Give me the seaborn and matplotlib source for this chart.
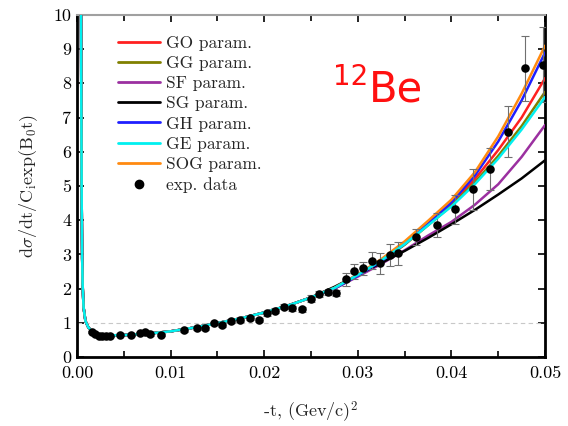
import numpy as np
import pandas as pd
import matplotlib
matplotlib.use("Agg")
import matplotlib.pyplot as plt
from matplotlib.lines import Line2D
from matplotlib.ticker import MultipleLocator, FixedLocator, FixedFormatter
import seaborn as sns

# ---------------- data ----------------
t_curve = [0.0004, 0.00045, 0.0005, 0.00055, 0.0006, 0.0007, 0.0009, 0.0012, 0.0016,
           0.002, 0.003, 0.005, 0.0075, 0.01, 0.0125, 0.015, 0.0175, 0.02, 0.0225,
           0.025, 0.0275, 0.03, 0.0325, 0.035, 0.0375, 0.04, 0.0425, 0.045, 0.0475, 0.05]
low_common = [12.0, 8.0, 4.5, 2.9, 2.1, 1.45, 1.05, 0.87, 0.74,
              0.67, 0.63, 0.64, 0.68, 0.75, 0.86, 0.99, 1.13, 1.30, 1.50, 1.74]
go_high = [2.00, 2.38, 2.80, 3.30, 3.88, 4.48, 5.20, 6.05, 7.00, 8.15]
gg_high = [2.00, 2.38, 2.80, 3.28, 3.85, 4.42, 5.10, 5.88, 6.75, 7.75]
sf_high = [2.00, 2.35, 2.72, 3.12, 3.55, 3.95, 4.45, 5.05, 5.85, 6.78]
sg_high = [2.05, 2.40, 2.75, 3.10, 3.48, 3.88, 4.30, 4.75, 5.22, 5.75]
gh_high = [2.00, 2.38, 2.80, 3.30, 3.90, 4.52, 5.30, 6.30, 7.50, 8.90]
ge_high = [2.02, 2.40, 2.82, 3.30, 3.85, 4.40, 5.05, 5.80, 6.65, 7.60]
sog_high = [2.02, 2.42, 2.86, 3.38, 3.98, 4.60, 5.40, 6.45, 7.70, 9.10]

labels = ["GO param.", "GG param.", "SF param.", "SG param.",
          "GH param.", "GE param.", "SOG param."]
colors = ["#ff2020", "#808000", "#9b30a0", "#000000",
          "#1f1fff", "#00f0f0", "#ff8a10"]
highs = [go_high, gg_high, sf_high, sg_high, gh_high, ge_high, sog_high]

t_data = [0.00157, 0.0019, 0.0023, 0.0027, 0.0031, 0.0035, 0.0046, 0.0058, 0.0067,
          0.0073, 0.0078, 0.0090, 0.0114, 0.0128, 0.0137, 0.0146, 0.0155, 0.0165,
          0.0174, 0.0185, 0.0194, 0.0203, 0.0212, 0.0221, 0.0230, 0.0240, 0.0250,
          0.0259, 0.0268, 0.0277, 0.0287, 0.0296, 0.0306, 0.0315, 0.0324, 0.0334,
          0.0343, 0.0362, 0.0385, 0.0404, 0.0423, 0.0441, 0.0460, 0.0479, 0.0498]
y_data = [0.72, 0.66, 0.62, 0.61, 0.61, 0.62, 0.65, 0.65, 0.70,
          0.74, 0.66, 0.64, 0.78, 0.85, 0.84, 0.98, 0.93, 1.04,
          1.08, 1.13, 1.08, 1.28, 1.35, 1.47, 1.42, 1.39, 1.70,
          1.84, 1.89, 1.87, 2.27, 2.51, 2.59, 2.82, 2.74, 2.98,
          3.03, 3.50, 3.85, 4.32, 4.91, 5.49, 6.59, 8.44, 8.54]
err_data = [0.03, 0.03, 0.03, 0.03, 0.03, 0.03, 0.03, 0.03, 0.04,
            0.04, 0.04, 0.04, 0.05, 0.05, 0.05, 0.05, 0.05, 0.06,
            0.06, 0.06, 0.06, 0.07, 0.07, 0.08, 0.08, 0.08, 0.10,
            0.10, 0.08, 0.10, 0.19, 0.22, 0.18, 0.26, 0.31, 0.31,
            0.34, 0.23, 0.35, 0.42, 0.60, 0.62, 0.75, 0.95, 1.10]

x_ticks = [0.00, 0.01, 0.02, 0.03, 0.04, 0.05]
x_ticklabels = ["0.00", "0.01", "0.02", "0.03", "0.04", "0.05"]
y_ticks = list(range(0, 11))

# ---------------- style ----------------
sns.set_theme(style="ticks")
plt.rcParams["font.family"] = ["cmr10", "DejaVu Serif"]
plt.rcParams["mathtext.fontset"] = "cm"
plt.rcParams["axes.formatter.use_mathtext"] = True

fig = plt.figure(figsize=(5.68, 4.26), dpi=100)
ax = fig.add_axes([0.1356, 0.162, 0.824, 0.803])

ax.axhline(1.0, color="#c8c8c8", lw=0.8, ls=(0, (4, 3)), zorder=1)

for lab, col, hi in zip(labels, colors, highs):
    df = pd.DataFrame({"t": t_curve, "y": low_common + hi})
    sns.lineplot(data=df, x="t", y="y", color=col, lw=1.8, sort=False,
                 estimator=None, ax=ax, zorder=5 if lab.startswith("GE") else 3)

ax.errorbar(t_data, y_data, yerr=err_data, fmt="none", ecolor="#707070",
            elinewidth=0.8, capsize=3, capthick=0.8, zorder=4)
sns.scatterplot(x=t_data, y=y_data, color="black", s=38, edgecolor="black",
                linewidth=0, ax=ax, zorder=6)

ax.set_xlim(0, 0.05)
ax.set_ylim(0, 10)
ax.xaxis.set_major_locator(FixedLocator(x_ticks))
ax.xaxis.set_major_formatter(FixedFormatter(x_ticklabels))
ax.xaxis.set_minor_locator(MultipleLocator(0.005))
ax.set_yticks(y_ticks)
ax.set_yticklabels([str(v) for v in y_ticks])

ax.tick_params(axis="both", which="both", direction="in", top=True, right=True,
               labelsize=13, colors="black", width=1.2)
ax.tick_params(axis="both", which="major", length=5)
ax.tick_params(axis="x", which="major", pad=6)
ax.tick_params(axis="y", which="major", pad=4)
ax.tick_params(axis="x", which="minor", length=4)

for side in ["left", "bottom", "right"]:
    ax.spines[side].set_linewidth(2)
    ax.spines[side].set_color("black")
ax.spines["top"].set_linewidth(1.5)
ax.spines["top"].set_color("#a0a0a0")

ax.set_xlabel(r"-t, (Gev/c)$^2$", fontsize=13, labelpad=14)
ax.set_ylabel(r"d$\sigma$/dt/C$_{\rm i}$exp(B$_0$t)", fontsize=13, labelpad=10)

handles = [Line2D([], [], color=c, lw=2) for c in colors]
handles.append(Line2D([], [], color="black", marker="o", ls="none", markersize=6))
leg = ax.legend(handles, labels + ["exp. data"], loc="upper left",
                bbox_to_anchor=(0.088, 0.94), frameon=False, fontsize=12.5,
                handlelength=2.4, handletextpad=0.35, labelspacing=0.28,
                borderpad=0, borderaxespad=0)

fig.text(333 / 568, 1 - 85 / 426, "12", color="#ff1010", fontsize=20,
         family="DejaVu Sans", ha="left", va="baseline")
fig.text(369 / 568, 1 - 102 / 426, "Be", color="#ff1010", fontsize=30,
         family="DejaVu Sans", ha="left", va="baseline")

fig.savefig("out.png", dpi=100)
